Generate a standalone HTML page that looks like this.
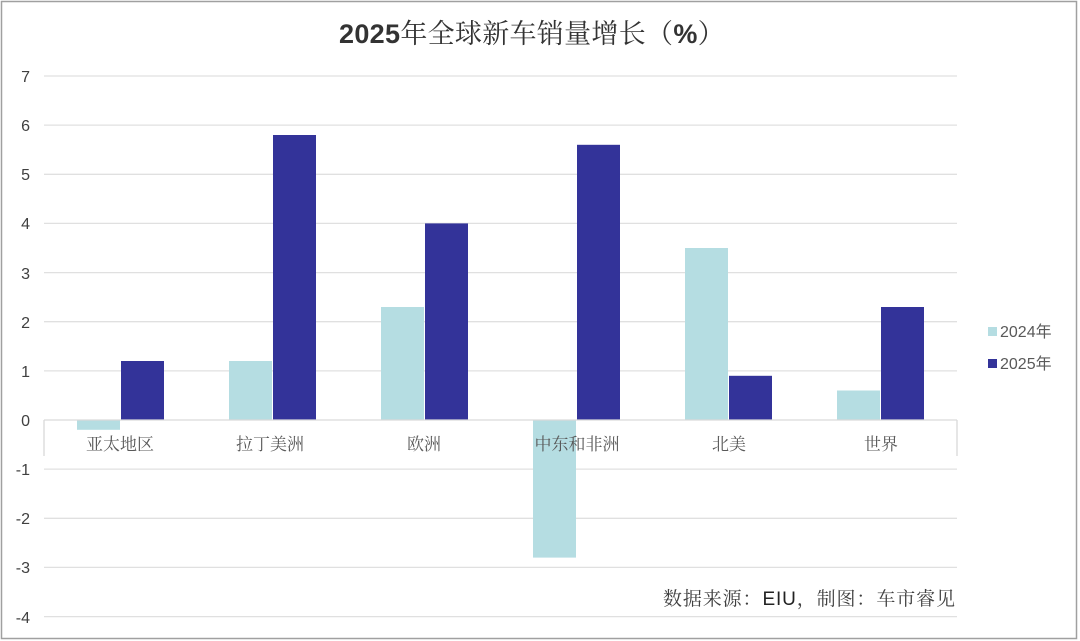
<!DOCTYPE html>
<html><head><meta charset="utf-8"><style>
html,body{margin:0;padding:0;background:#fff;}
svg{display:block;}
</style></head><body>
<svg width="1080" height="641" viewBox="0 0 1080 641" xmlns="http://www.w3.org/2000/svg">
<rect x="1.5" y="1.5" width="1075" height="637" fill="#fff" stroke="#a0a0a0" stroke-width="1.5"/>
<text x="532" y="43" text-anchor="middle" font-family="Liberation Sans, Noto Sans CJK SC, sans-serif" font-size="27" font-weight="bold" fill="#333" letter-spacing="0.3">2025<tspan font-weight="normal" font-family="Noto Serif CJK SC, serif">年全球新车销量增长（</tspan>%<tspan font-weight="normal" font-family="Noto Serif CJK SC, serif">）</tspan></text>
<g stroke="#e0e0e0" stroke-width="1.3">
<line x1="44" x2="957" y1="76" y2="76"/><line x1="44" x2="957" y1="125.1" y2="125.1"/>
<line x1="44" x2="957" y1="174.3" y2="174.3"/><line x1="44" x2="957" y1="223.4" y2="223.4"/>
<line x1="44" x2="957" y1="272.6" y2="272.6"/><line x1="44" x2="957" y1="321.7" y2="321.7"/>
<line x1="44" x2="957" y1="370.9" y2="370.9"/>
<line x1="44" x2="957" y1="469.1" y2="469.1"/><line x1="44" x2="957" y1="518.3" y2="518.3"/>
<line x1="44" x2="957" y1="567.4" y2="567.4"/><line x1="44" x2="957" y1="616.6" y2="616.6"/>
</g>
<g font-family="Liberation Sans, sans-serif" font-size="16" fill="#404040" text-anchor="end">
<text x="30" y="82">7</text><text x="30" y="131">6</text><text x="30" y="180">5</text><text x="30" y="229">4</text>
<text x="30" y="279">3</text><text x="30" y="328">2</text><text x="30" y="377">1</text><text x="30" y="426">0</text>
<text x="30" y="475">-1</text><text x="30" y="524">-2</text><text x="30" y="573">-3</text><text x="30" y="623">-4</text>
</g>
<g fill="#b5dde2">
<rect x="77" y="420" width="43" height="9.8"/>
<rect x="229" y="361" width="43" height="59"/>
<rect x="381" y="307" width="43" height="113"/>
<rect x="533" y="420" width="43" height="137.6"/>
<rect x="685" y="248" width="43" height="172"/>
<rect x="837" y="390.5" width="43" height="29.5"/>
</g>
<g fill="#333399">
<rect x="121" y="361" width="43" height="59"/>
<rect x="273" y="135" width="43" height="285"/>
<rect x="425" y="223.4" width="43" height="196.6"/>
<rect x="577" y="144.8" width="43" height="275.2"/>
<rect x="729" y="375.8" width="43" height="44.2"/>
<rect x="881" y="307" width="43" height="113"/>
</g>
<g stroke="#d9d9d9" stroke-width="1.3">
<line x1="44" x2="957" y1="420" y2="420"/>
<line x1="44" x2="44" y1="420" y2="456"/><line x1="957" x2="957" y1="420" y2="456"/>
</g>
<g font-family="Liberation Serif, Noto Serif CJK SC, serif" font-size="17" fill="#595959" text-anchor="middle">
<text x="120" y="450">亚太地区</text><text x="270" y="450">拉丁美洲</text><text x="424" y="450">欧洲</text>
<text x="577" y="450">中东和非洲</text><text x="729" y="450">北美</text><text x="881" y="450">世界</text>
</g>
<rect x="988" y="327" width="9" height="9" fill="#b5dde2"/>
<rect x="988" y="359" width="9" height="9" fill="#333399"/>
<g font-family="Liberation Sans, Noto Sans CJK SC, sans-serif" font-size="16" fill="#595959">
<text x="1000" y="337">2024年</text><text x="1000" y="369">2025年</text>
</g>
<rect x="660" y="584" width="296" height="30" fill="#fff"/>
<text x="663" y="605" font-family="Liberation Serif, Noto Serif CJK SC, serif" font-size="19" fill="#404040" textLength="292" lengthAdjust="spacing">数据来源：<tspan font-family="Liberation Sans, sans-serif" fill="#222">EIU</tspan>，制图：车市睿见</text>
</svg>
</body></html>
